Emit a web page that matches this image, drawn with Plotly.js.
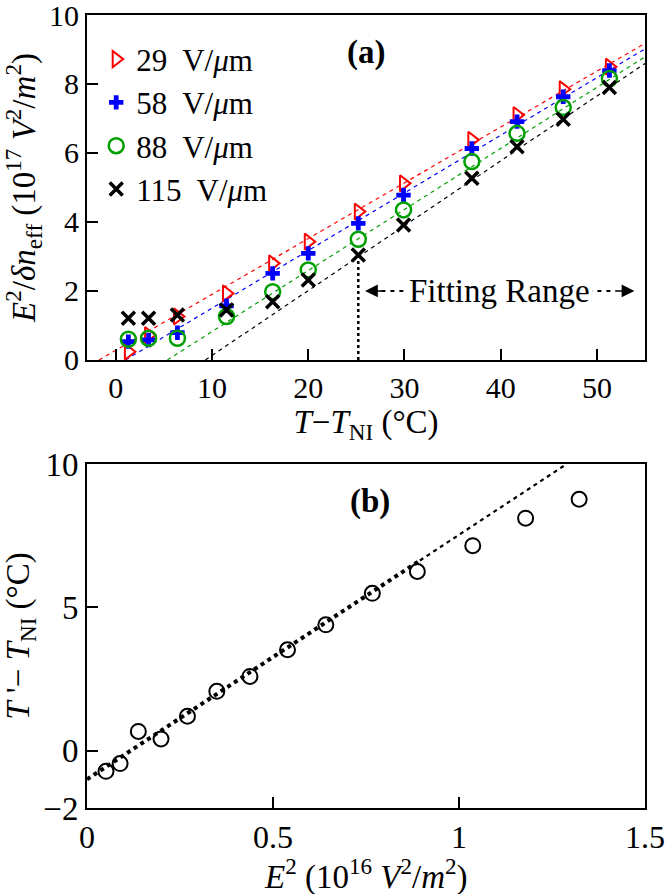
<!DOCTYPE html>
<html><head><meta charset="utf-8">
<script src="https://cdn.plot.ly/plotly-3.0.1.min.js"></script>
<style>body{margin:0;background:#fff}#plot{width:665px;height:894px}</style>
</head><body><div id="plot"></div>
<script>
// ---- data, panel (a) ----
const temps = [1.3, 3.4, 6.4, 11.5, 16.3, 20.0, 25.2, 29.9, 37.0, 41.7, 46.5, 51.3];
const fieldLabels = ["29  V/<i>μ</i>m", "58  V/<i>μ</i>m", "88  V/<i>μ</i>m", "115  V/<i>μ</i>m"];
const ratio29  = [0.24, 0.72, 1.26, 1.93, 2.80, 3.43, 4.30, 5.12, 6.38, 7.10, 7.85, 8.50];
const ratio58  = [0.53, 0.58, 0.79, 1.57, 2.51, 3.09, 3.96, 4.78, 6.13, 6.91, 7.63, 8.39];
const ratio88  = [0.60, 0.63, 0.63, 1.26, 1.98, 2.61, 3.50, 4.35, 5.75, 6.57, 7.32, 8.16];
const ratio115 = [1.21, 1.21, 1.30, 1.45, 1.69, 2.32, 3.04, 3.91, 5.27, 6.18, 6.98, 7.90];
const fitSlopes = [0.1617, 0.167, 0.177, 0.188];
const fitIntercepts = [0.2846, -0.167, -0.947, -1.748];
const fittingStart = 25.2;
// ---- data, panel (b) ----
const fieldSq = [0.051, 0.089, 0.138, 0.199, 0.270, 0.349, 0.438, 0.539, 0.642, 0.767, 0.888, 1.037, 1.179, 1.323];
const tPrime  = [-0.72, -0.45, 0.67, 0.41, 1.20, 2.07, 2.59, 3.52, 4.39, 5.49, 6.25, 7.15, 8.11, 8.77];
const fitB = {slope: 8.53, intercept: -1.0, fitEnd: 0.895};

const FONT = "Liberation Serif, Times New Roman, serif";
const FS = 30, FSB = 33;
const colors = ["#ff0000", "#0000ff", "#00a000", "#000000"];
const series = [ratio29, ratio58, ratio88, ratio115];
const markers = [
  {symbol: "triangle-right-open", size: 14, color: colors[0], line: {width: 2, color: colors[0]}},
  {symbol: "cross", size: 12, color: colors[1], line: {width: 0}},
  {symbol: "circle-open", size: 15, color: colors[2], line: {width: 2.5, color: colors[2]}},
  {symbol: "x-thin-open", size: 13, color: colors[3], line: {width: 3.5, color: colors[3]}}
];
const xMinA = -3, xMaxA = 55;
const traces = [];
for (let i = 0; i < 4; i++) {
  const m = fitSlopes[i], b = fitIntercepts[i];
  const x0 = Math.max(xMinA, -b / m);
  traces.push({x: [x0, xMaxA], y: [m * x0 + b, m * xMaxA + b], mode: "lines", xaxis: "x", yaxis: "y",
    line: {color: colors[i], width: 1.2, dash: "4px,4px"}, showlegend: false, hoverinfo: "skip"});
}
traces.push({x: [fittingStart, fittingStart], y: [0, ratio115[temps.indexOf(fittingStart)]], mode: "lines",
  xaxis: "x", yaxis: "y", line: {color: "#000", width: 2.5, dash: "3px,3px"}, showlegend: false, hoverinfo: "skip"});
for (let i = 0; i < 4; i++) {
  traces.push({x: temps, y: series[i], mode: "markers", name: fieldLabels[i], xaxis: "x", yaxis: "y",
    marker: markers[i]});
}
const xEndB = (10 - fitB.intercept) / fitB.slope;
traces.push({x: [0, fitB.fitEnd], y: [fitB.intercept, fitB.intercept + fitB.slope * fitB.fitEnd], mode: "lines",
  xaxis: "x2", yaxis: "y2", line: {color: "#000", width: 4, dash: "4px,4px"}, showlegend: false});
traces.push({x: [fitB.fitEnd, xEndB], y: [fitB.intercept + fitB.slope * fitB.fitEnd, 10], mode: "lines",
  xaxis: "x2", yaxis: "y2", line: {color: "#000", width: 2.2, dash: "4px,4px"}, showlegend: false});
traces.push({x: fieldSq, y: tPrime, mode: "markers", xaxis: "x2", yaxis: "y2", showlegend: false,
  marker: {symbol: "circle-open", size: 15, color: "#000", line: {width: 2, color: "#000"}}});

const axBase = {showline: true, linewidth: 2, linecolor: "#000", mirror: true, ticks: "inside", ticklen: 11,
  tickwidth: 2, tickcolor: "#000", showgrid: false, zeroline: false, ticklabeloverflow: "allow"};
const layout = {
  width: 665, height: 894, margin: {l: 87, r: 20, t: 15, b: 86},
  paper_bgcolor: "#fff", plot_bgcolor: "#fff",
  font: {family: FONT, size: FS, color: "#000"},
  xaxis: Object.assign({}, axBase, {domain: [0, 1], anchor: "y", range: [xMinA, xMaxA], tickvals: [0, 10, 20, 30, 40, 50],
    tickfont: {family: FONT, size: FS, color: "#000"},
    title: {text: "<i>T</i>−<i>T</i><sub>NI</sub> (°C)", standoff: 2, font: {family: FONT, size: FSB}}}),
  yaxis: Object.assign({}, axBase, {domain: [0.565, 1], anchor: "x", range: [0, 10], tickvals: [0, 2, 4, 6, 8, 10],
    tickfont: {family: FONT, size: FS, color: "#000"},
    title: {text: "<i>E</i><sup>2</sup>/<i>δn</i><sub>eff</sub> (10<sup>17</sup> <i>V</i><sup>2</sup>/<i>m</i><sup>2</sup>)", standoff: 6, font: {family: FONT, size: FSB}}}),
  xaxis2: Object.assign({}, axBase, {domain: [0, 1], anchor: "y2", range: [0, 1.5], tickvals: [0, 0.5, 1, 1.5],
    ticktext: ["0", "0.5", "1", "1.5"], tickfont: {family: FONT, size: 32, color: "#000"}}),
  yaxis2: Object.assign({}, axBase, {domain: [0, 0.4338], anchor: "x2", range: [-2, 10], tickvals: [-2, 0, 5, 10],
    ticktext: ["−2", "0", "5", "10"], tickfont: {family: FONT, size: FSB, color: "#000"},
    title: {text: "<i>T</i> '− <i>T</i><sub>NI</sub> (°C)", standoff: 6, font: {family: FONT, size: FSB}}}),
  legend: {x: 0.0165, y: 0.978, xanchor: "left", yanchor: "top", bgcolor: "rgba(0,0,0,0)", borderwidth: 0,
    font: {family: FONT, size: 31}, itemwidth: 30, tracegroupgap: 0},
  showlegend: true,
  shapes: [
    {type: "line", xref: "x", yref: "y", x0: 27.6, x1: 52.0, y0: 2.0, y1: 2.0, line: {color: "#000", width: 2, dash: "4px,5px"}}
  ],
  annotations: [
    {text: "<i>E</i><sup>2</sup> (10<sup>16</sup> <i>V</i><sup>2</sup>/<i>m</i><sup>2</sup>)", xref: "paper", yref: "paper",
      x: 0.5, y: -0.084, xanchor: "center", yanchor: "middle", showarrow: false, font: {family: FONT, size: 33}},
    {text: "<b>(a)</b>", xref: "x", yref: "y", x: 26, y: 8.9, showarrow: false, font: {family: FONT, size: FSB}},
    {text: "<b>(b)</b>", xref: "x2", yref: "y2", x: 0.761, y: 8.68, showarrow: false, font: {family: FONT, size: FSB}},
    {text: "Fitting Range", xref: "x", yref: "y", x: 39.9, y: 2.0, showarrow: false, bgcolor: "#fff", borderpad: 2,
      font: {family: FONT, size: FSB}},
    {text: "", xref: "x", yref: "y", x: 25.9, y: 2.0, ax: 20, ay: 0, showarrow: true, arrowhead: 2, arrowsize: 1.6,
      arrowwidth: 1.6, arrowcolor: "#000"},
    {text: "", xref: "x", yref: "y", x: 53.9, y: 2.0, ax: -20, ay: 0, showarrow: true, arrowhead: 2, arrowsize: 1.6,
      arrowwidth: 1.6, arrowcolor: "#000"}
  ]
};
Plotly.newPlot("plot", traces, layout, {displayModeBar: false, staticPlot: true});
</script></body></html>
